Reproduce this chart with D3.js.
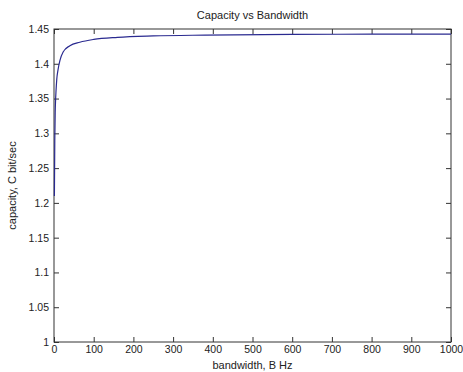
<!DOCTYPE html>
<html>
<head>
<meta charset="utf-8">
<script src="https://cdn.jsdelivr.net/npm/d3@7"></script>
<style>
  body { margin: 0; background: #fff; }
  text { font-family: "Liberation Sans", Arial, sans-serif; fill: #222; }
</style>
</head>
<body>
<div id="chart"></div>
<script>
// values
var bandwidth = [1, 2, 3, 4, 5, 7, 10, 15, 23, 40, 65, 100, 160, 250, 380, 600, 800, 1000];
var capacity = [1.21, 1.29, 1.33, 1.348, 1.36, 1.378, 1.391, 1.405, 1.417, 1.426, 1.431, 1.435, 1.438, 1.440, 1.4412, 1.4422, 1.4426, 1.4427];
var xTicks = [0, 100, 200, 300, 400, 500, 600, 700, 800, 900, 1000];
var yTicks = [1, 1.05, 1.1, 1.15, 1.2, 1.25, 1.3, 1.35, 1.4, 1.45];

var width = 463, height = 372;
var margin = {top: 29, right: 12, bottom: 30, left: 54};
var w = width - margin.left - margin.right;
var h = height - margin.top - margin.bottom;

var svg = d3.select('#chart')
  .append('svg')
  .attr('width', width)
  .attr('height', height);

var g = svg.append('g')
  .attr('transform', 'translate(' + margin.left + ',' + margin.top + ')');

var x = d3.scaleLinear().domain([0, 1000]).range([0, w]);
var y = d3.scaleLinear().domain([1, 1.45]).range([h, 0]);

function styleAxis(sel){
  sel.select('.domain').remove();
  sel.selectAll('line').attr('stroke', '#333');
  sel.selectAll('text').style('font-size', '10.5px').attr('fill', '#222');
}

// bottom / left with labels, top / right with ticks only (ticks inside)
g.append('g')
  .attr('transform', 'translate(0,' + h + ')')
  .call(d3.axisBottom(x).tickValues(xTicks).tickSizeInner(-5).tickPadding(4).tickFormat(d3.format('d')))
  .call(styleAxis);

g.append('g')
  .call(d3.axisLeft(y).tickValues(yTicks).tickSizeInner(-5).tickPadding(5).tickFormat(function(d){ return d3.format('')(+d.toFixed(2)); }))
  .call(styleAxis);

g.append('g')
  .call(d3.axisTop(x).tickValues(xTicks).tickSizeInner(-5).tickFormat(''))
  .call(styleAxis);

g.append('g')
  .attr('transform', 'translate(' + w + ',0)')
  .call(d3.axisRight(y).tickValues(yTicks).tickSizeInner(-5).tickFormat(''))
  .call(styleAxis);

g.append('rect')
  .attr('width', w)
  .attr('height', h)
  .attr('fill', 'none')
  .attr('stroke', '#333')
  .attr('stroke-width', 1);

var line = d3.line()
  .x(function(d, i){ return x(bandwidth[i]); })
  .y(function(d){ return y(d); })
  .curve(d3.curveMonotoneX);

g.append('path')
  .datum(capacity)
  .attr('d', line)
  .attr('fill', 'none')
  .attr('stroke', '#2a2a90')
  .attr('stroke-width', 1.2);

svg.append('text')
  .attr('x', margin.left + w / 2)
  .attr('y', 19)
  .attr('text-anchor', 'middle')
  .style('font-size', '11px')
  .text('Capacity vs Bandwidth');

svg.append('text')
  .attr('x', margin.left + w / 2)
  .attr('y', 369)
  .attr('text-anchor', 'middle')
  .style('font-size', '11px')
  .text('bandwidth, B Hz');

svg.append('text')
  .attr('transform', 'translate(16,' + (margin.top + h / 2) + ') rotate(-90)')
  .attr('text-anchor', 'middle')
  .style('font-size', '11px')
  .text('capacity, C bit/sec');
</script>
</body>
</html>
